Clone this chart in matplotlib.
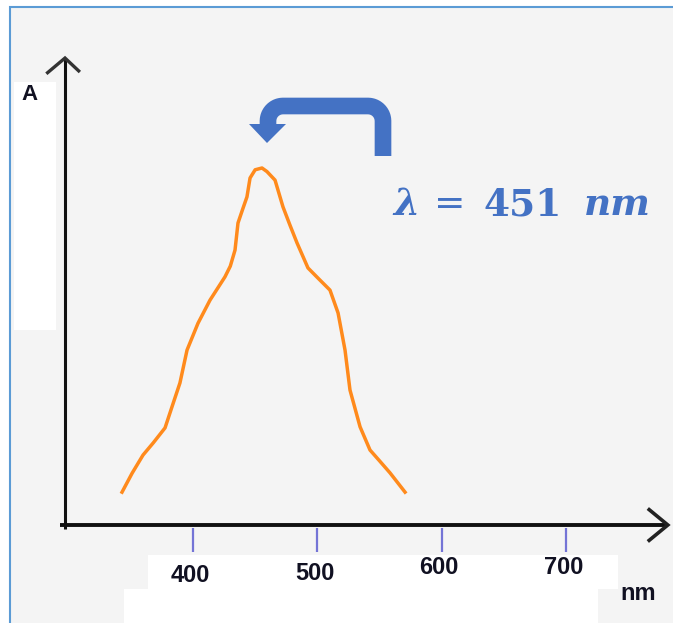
import numpy as np
import matplotlib
matplotlib.use("Agg")
import matplotlib.pyplot as plt
from matplotlib.transforms import Affine2D
from matplotlib.path import Path
import matplotlib.patches as mpatches

# absorption spectrum (wavelength nm, relative absorbance)
wavelength = [342.9, 351.0, 359.8, 368.0, 377.5, 383.0, 389.5, 395.2, 404.0, 413.7,
              425.7, 430.0, 433.8, 436.2, 440.0, 443.4, 445.9, 450.0, 455.5, 459.5,
              466.0, 472.4, 478.0, 483.7, 492.5, 501.0, 510.2, 516.7, 522.3, 526.3,
              534.4, 542.4, 550.0, 558.5, 570.6]
absorbance = [0.092, 0.145, 0.196, 0.230, 0.272, 0.330, 0.398, 0.490, 0.565, 0.630,
              0.695, 0.725, 0.770, 0.846, 0.885, 0.919, 0.972, 0.995, 1.000, 0.990,
              0.966, 0.891, 0.840, 0.790, 0.720, 0.690, 0.658, 0.594, 0.490, 0.378,
              0.275, 0.210, 0.180, 0.146, 0.092]
tick_nm = [400, 500, 600, 700]
tick_labels = ["400", "500", "600", "700"]
peak_label = "451"

W, H = 673, 623
fig = plt.figure(figsize=(W / 100, H / 100), dpi=100)
fig.patch.set_facecolor("white")
pix = Affine2D().scale(1, -1).translate(0, H)   # image pixel coords -> display

# screenshot background, border and white patches
fig.patches.append(mpatches.Rectangle((10, 7), W, H, transform=pix, facecolor="#f4f4f4",
                                      edgecolor="#5b9bd5", lw=1.5, zorder=-10))
for x0, y0, w, h in [(14, 82, 42, 248), (148, 555, 470, 34), (124, 589, 474, 40)]:
    fig.patches.append(mpatches.Rectangle((x0, y0), w, h, transform=pix,
                                          facecolor="white", edgecolor="none", zorder=-9))

ax = fig.add_axes([0, 0, 1, 1])
ax.set_facecolor("none")
ax.axis("off")

# pixel 193 -> 400 nm, 124.3 px per 100 nm ; pixel row 525 -> A=0, 357 px per unit
ax.set_xlim(400 - 193 / 1.243, 400 + (W - 193) / 1.243)
ax.set_ylim((525 - H) / 357, 525 / 357)

x0 = 400 - 128 / 1.243
# axes with arrows
ax.plot([x0 - 4, 782], [0, 0], color="#111111", lw=2.8, solid_capstyle="butt")
ax.plot([x0, x0], [-0.01, 1.305], color="#111111", lw=2.2, solid_capstyle="butt")
ax.plot([767, 782, 767], [0.043, 0, -0.043], color="#222222", lw=2.6,
        solid_joinstyle="miter")
ax.plot([x0 - 14, x0, x0 + 11], [1.267, 1.308, 1.272], color="#333333", lw=2.4,
        solid_joinstyle="miter")

ax.vlines(tick_nm, -0.0084, -0.0756, color="#7474d6", lw=1.6)
label_rows = [576, 573, 568, 568]
for t, lab, r in zip(tick_nm, tick_labels, label_rows):
    ax.text(t - 2, (525 - r) / 357, lab, ha="center", va="center",
            fontsize=17, fontweight="bold", family="Liberation Sans", color="#111122")
fig.text(638, 593, "nm", transform=pix, ha="center", va="center", fontsize=17,
         fontweight="bold", family="Liberation Sans", color="#111122")
fig.text(29, 95, "A", transform=pix, ha="center", va="center", fontsize=16,
         fontweight="bold", family="Liberation Sans", color="#111122")

ax.plot(wavelength, absorbance, color="#ff8a1c", lw=2.5, solid_joinstyle="round")

# bent blue arrow pointing at the peak
blue = "#4472c4"
t = np.linspace(0, np.pi / 2, 12)
pts = [(383, 156), (383, 121)]
pts += [(368 + 15 * np.cos(a), 121 - 15 * np.sin(a)) for a in t]
pts += [(283, 106)]
pts += [(283 - 15 * np.sin(a), 121 - 15 * np.cos(a)) for a in t]
pts += [(268, 126)]
arrow_path = Path(pts)
fig.patches.append(mpatches.PathPatch(arrow_path, transform=pix, fill=False,
                                      edgecolor=blue, lw=12, capstyle="butt",
                                      joinstyle="round", zorder=5))
fig.patches.append(mpatches.Polygon([(249, 124), (286, 124), (267, 143)], closed=True,
                                    transform=pix, facecolor=blue, edgecolor="none",
                                    zorder=5))

fig.text(406, 215, "λ", transform=pix, ha="center", va="baseline", fontsize=27,
         fontweight="bold", fontstyle="italic", family="DejaVu Serif", color=blue)
fig.text(450, 215, "=", transform=pix, ha="center", va="baseline", fontsize=27,
         family="DejaVu Serif", color=blue)
fig.text(523, 215, peak_label, transform=pix, ha="center", va="baseline", fontsize=27,
         fontweight="bold", family="DejaVu Serif", color=blue)
fig.text(617, 215, "nm", transform=pix, ha="center", va="baseline", fontsize=27,
         fontweight="bold", fontstyle="italic", family="DejaVu Serif", color=blue)

fig.savefig("out.png", dpi=100)
